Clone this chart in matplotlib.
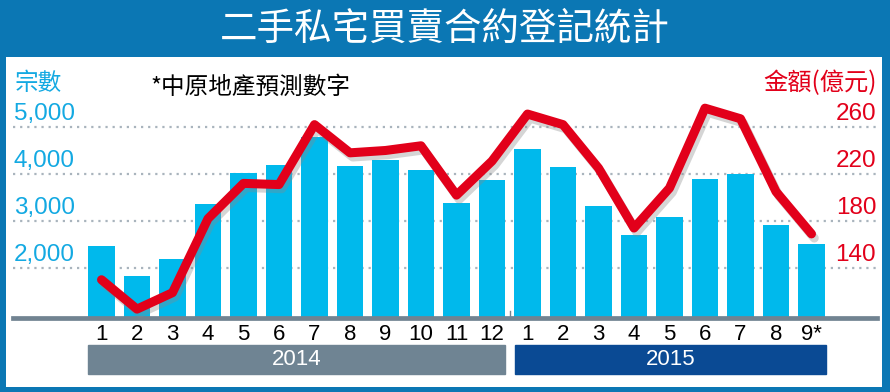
import matplotlib.pyplot as plt
import matplotlib.patheffects as pe
from matplotlib.patches import Rectangle
from matplotlib.transforms import blended_transform_factory

plt.rcParams['font.family'] = ['Noto Sans CJK TC', 'DejaVu Sans']

# monthly second-hand private residential sale agreements
months = ['1', '2', '3', '4', '5', '6', '7', '8', '9', '10', '11', '12',
          '1', '2', '3', '4', '5', '6', '7', '8', '9*']
deals = [2470, 1840, 2200, 3360, 4030, 4190, 4790, 4170, 4300, 4090, 3380, 3870,
         4530, 4140, 3320, 2700, 3090, 3890, 3990, 2920, 2500]
amount = [130, 105, 119, 182, 212, 211, 262, 238, 240, 244, 202, 231,
          271, 262, 225, 174, 208, 276, 267, 205, 169]
left_ticks = [2000, 3000, 4000, 5000]
right_ticks = [140, 180, 220, 260]
years = ['2014', '2015']

BLUE = '#0b77b4'
CYAN = '#13a9e2'
BAR = '#00b9ec'
RED = '#e2001a'
NARROW = ['Liberation Sans Narrow', 'Liberation Sans', 'DejaVu Sans']
W, H = 890, 392

fig = plt.figure(figsize=(W / 100, H / 100), dpi=100)
fig.patch.set_facecolor(BLUE)
bg = fig.add_axes([6 / W, 5 / H, 876 / W, 330 / H], zorder=-5)
bg.set_facecolor('white')
bg.set_xticks([])
bg.set_yticks([])
for s in bg.spines.values():
    s.set_visible(False)

fig.text(0.5, 1 - 29 / H, '二手私宅買賣合約登記統計', color='white', fontsize=27,
         weight='medium', ha='center', va='center')

# axes spans pixel x 13..877, y 100..318 (top-origin)
ax = fig.add_axes([13 / W, (H - 318) / H, 864 / W, 218 / H])
ax.set_facecolor('none')
x = list(range(len(months)))
ax.set_xlim((13 - 101.5) / 35.5, (877 - 101.5) / 35.5)
ax.set_ylim(936, 5574)

for v in left_ticks:
    ax.axhline(v, color='#a9b4bd', lw=1.6, ls=(0, (1, 2.2)), zorder=1)

ax.bar(x, deals, width=0.76, color=BAR, zorder=2)

for s in ['top', 'left', 'right']:
    ax.spines[s].set_visible(False)
ax.spines['bottom'].set_color('#718391')
ax.spines['bottom'].set_linewidth(3.4)
ax.spines['bottom'].set_zorder(5)
ax.set_yticks([])
ax.set_xticks(x)
ax.set_xticklabels(months, fontsize=16, family=NARROW)
ax.tick_params(axis='x', length=0, pad=4)

tr = blended_transform_factory(ax.transAxes, ax.transData)
for v in left_ticks:
    ax.text(0.001, v + 45, f'{v:,}', transform=tr, color=CYAN, fontsize=17.5,
            family='Liberation Sans', ha='left', va='bottom')

ax2 = ax.twinx()
ax2.set_ylim(60 + 0.04 * 936, 60 + 0.04 * 5574)
ax2.set_yticks([])
for s in ['top', 'left', 'right', 'bottom']:
    ax2.spines[s].set_visible(False)
ax2.plot(x, amount, color=RED, lw=6.5, solid_joinstyle='round', solid_capstyle='round',
         zorder=4, path_effects=[pe.SimpleLineShadow(offset=(2, -3), shadow_color='#888888', alpha=0.35),
                                 pe.Normal()])
tr2 = blended_transform_factory(ax2.transAxes, ax2.transData)
for v in right_ticks:
    ax2.text(0.999, v + 1.8, str(v), transform=tr2, color=RED, fontsize=17.5,
             family='Liberation Sans', ha='right', va='bottom')

# year bands below the month labels
trx = blended_transform_factory(ax.transData, ax.transAxes)
bands = [(-0.38, 11.37, '#6f8493'), (11.65, 20.4, '#0a4a94')]
for (x0, x1, col), yr in zip(bands, years):
    ax.add_patch(Rectangle((x0, -0.257), x1 - x0, 0.133, transform=trx, color=col, clip_on=False))
    ax.text((x0 + x1) / 2, -0.19, yr, transform=trx, color='white', fontsize=16,
            family=NARROW, ha='center', va='center')
ax.plot([11.5, 11.5], [0, 0.03], transform=trx, color='#718391', lw=1, clip_on=False)

fig.text(15 / W, 1 - 83 / H, '宗數', color=CYAN, fontsize=17, weight='medium', va='center', ha='left')
fig.text(150 / W, 1 - 87 / H, '*中原地產預測數字', color='black', fontsize=17, va='center', ha='left')
fig.text(877 / W, 1 - 83 / H, '金額(億元)', color=RED, fontsize=17.5, weight='medium', va='center', ha='right')

fig.savefig('out.png', dpi=100, facecolor=fig.get_facecolor())
